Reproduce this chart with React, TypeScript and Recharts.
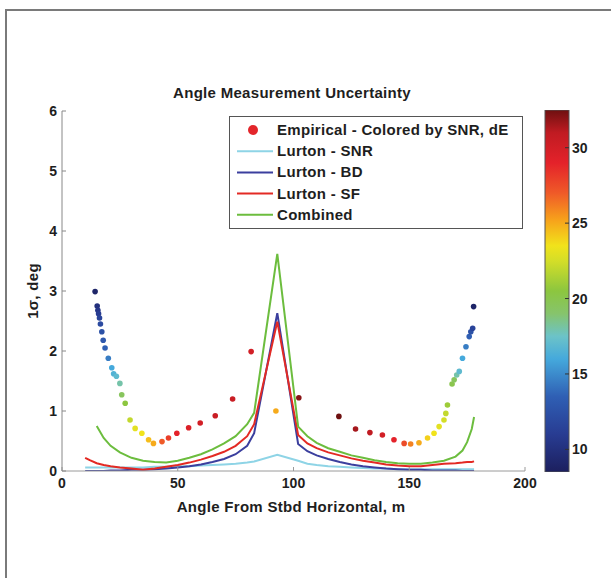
import React from "react";
import {
  ComposedChart,
  BarChart,
  Bar,
  Line,
  Scatter,
  XAxis,
  YAxis,
} from "recharts";

// model curves, sampled on a shared angle grid
const angles = [
  10, 12, 15, 18, 21, 25, 30, 35, 40, 45, 50, 55, 60, 65, 70, 75, 80, 83, 93,
  102, 106, 110, 115, 120, 125, 130, 135, 140, 145, 150, 155, 160, 165, 170,
  173, 175, 177, 178,
];
const lurtonSNR = [
  0.06, 0.06, 0.06, 0.06, 0.06, 0.06, 0.06, 0.06, 0.07, 0.07, 0.08, 0.08,
  0.09, 0.1, 0.11, 0.12, 0.14, 0.16, 0.27, 0.17, 0.12, 0.1, 0.08, 0.07, 0.06,
  0.05, 0.04, 0.04, 0.03, 0.03, 0.03, 0.03, 0.03, 0.03, 0.03, 0.03, 0.03, 0.03,
];
const lurtonBD = [
  0, 0, 0, 0, 0.01, 0.01, 0.02, 0.02, 0.03, 0.04, 0.06, 0.08, 0.11, 0.15, 0.2,
  0.28, 0.42, 0.63, 2.63, 0.45, 0.33, 0.26, 0.2, 0.15, 0.11, 0.08, 0.06, 0.04,
  0.03, 0.02, 0.02, 0.01, 0.01, 0.01, 0, 0, 0, 0,
];
const lurtonSF = [
  0.22, 0.18, 0.13, 0.1, 0.08, 0.06, 0.04, 0.02, 0.04, 0.07, 0.1, 0.14, 0.19,
  0.25, 0.32, 0.42, 0.58, 0.78, 2.49, 0.6, 0.46, 0.38, 0.31, 0.26, 0.21, 0.17,
  0.14, 0.11, 0.09, 0.08, 0.08, 0.1, 0.12, 0.13, 0.14, 0.15, 0.15, 0.16,
];
const combined = [
  null, null, 0.75, 0.55, 0.42, 0.31, 0.22, 0.17, 0.15, 0.14, 0.17, 0.22, 0.28,
  0.36, 0.46, 0.58, 0.78, 0.97, 3.62, 0.74, 0.58, 0.47, 0.38, 0.32, 0.26, 0.22,
  0.18, 0.15, 0.13, 0.12, 0.12, 0.14, 0.17, 0.24, 0.34, 0.48, 0.7, 0.9,
];

// empirical points, coloured by SNR (dE)
const empAngle = [
  14.3, 15.2, 15.5, 15.8, 16.2, 16.6, 17.2, 17.8, 18.6, 20.0, 21.5, 22.3, 23.5,
  25.0, 25.8, 27.3, 29.4, 31.6, 34.5, 37.4, 39.5, 43.2, 46.0, 49.6, 54.7, 59.7,
  66.2, 73.7, 81.7, 92.4, 102.3, 119.6, 126.8, 133.0, 138.4, 143.4, 147.8,
  150.6, 154.2, 157.9, 160.7, 162.9, 165.0, 165.8, 166.5, 168.5, 169.4, 170.5,
  171.6, 173.0, 174.5, 175.9, 176.6, 177.4, 177.8,
];
const empSigma = [
  2.99, 2.75, 2.68, 2.62, 2.55, 2.45, 2.32, 2.18, 2.05, 1.88, 1.72, 1.62, 1.58,
  1.46, 1.27, 1.13, 0.85, 0.71, 0.63, 0.52, 0.46, 0.49, 0.55, 0.63, 0.72, 0.8,
  0.92, 1.2, 1.99, 1.0, 1.22, 0.91, 0.7, 0.64, 0.6, 0.52, 0.46, 0.45, 0.47,
  0.55, 0.63, 0.74, 0.85, 0.96, 1.1, 1.45, 1.52, 1.6, 1.66, 1.88, 2.07, 2.24,
  2.32, 2.38, 2.74,
];
const empSnr = [
  9, 10, 10.5, 11, 11.5, 12, 12.5, 13, 13.5, 14.5, 16, 16.5, 17, 18, 19.5,
  20.5, 22, 23, 23.5, 24.5, 25, 27, 28, 29, 29.5, 30, 30.5, 30.5, 30, 25, 32,
  32.5, 31.5, 31, 30, 29, 27.5, 26, 25, 24, 23.5, 23, 22.5, 22, 21, 20, 19.5,
  18, 17, 16, 14.5, 13.5, 12.5, 11.5, 9,
];

const xTicks = [0, 50, 100, 150, 200];
const yTicks = [0, 1, 2, 3, 4, 5, 6];
const cbarTicks = [10, 15, 20, 25, 30];
const cbarMin = 8.5;
const cbarMax = 32.5;

const legendItems = [
  "Empirical - Colored by SNR, dE",
  "Lurton - SNR",
  "Lurton - BD",
  "Lurton - SF",
  "Combined",
];

// colormap stops (value -> colour), jet-like as in the print
const cmap: [number, string][] = [
  [8.5, "#1c1f5e"],
  [11, "#283c92"],
  [13.5, "#2f5fb4"],
  [16, "#45a9dc"],
  [17.5, "#6cc3c8"],
  [19, "#86c46c"],
  [20.5, "#8cc63f"],
  [22.5, "#d4de28"],
  [23.5, "#f1e31b"],
  [25.2, "#f7a21b"],
  [27, "#ef5a28"],
  [29, "#e4222a"],
  [31, "#c01b22"],
  [32.5, "#6e1010"],
];

const hex = (c: string) => [1, 3, 5].map((i) => parseInt(c.slice(i, i + 2), 16));

const colorAt = (v: number) => {
  if (v <= cmap[0][0]) return cmap[0][1];
  for (let i = 1; i < cmap.length; i++) {
    const [v1, c1] = cmap[i];
    if (v <= v1) {
      const [v0, c0] = cmap[i - 1];
      const t = (v - v0) / (v1 - v0);
      const a = hex(c0);
      const b = hex(c1);
      const m = a.map((x, k) => Math.round(x + (b[k] - x) * t));
      return `rgb(${m[0]},${m[1]},${m[2]})`;
    }
  }
  return cmap[cmap.length - 1][1];
};

const series = (vals: (number | null)[]) =>
  angles
    .map((a, i) => ({ angle: a, v: vals[i] }))
    .filter((d) => d.v !== null);

const empirical = empAngle.map((a, i) => ({
  angle: a,
  sigma: empSigma[i],
  snr: empSnr[i],
}));

const cbarData = [{ name: "snr", range: [cbarMin, cbarMax] }];

const FONT = "'Liberation Sans', Arial, sans-serif";
const TEXT = "#1e1e1e";
const tickStyle = { fill: TEXT, fontSize: 14, fontWeight: "bold", fontFamily: FONT };

const lineColors = ["#8ed4e6", "#3b3f9e", "#e32a24", "#6cbd3e"];

const EmpiricalDot = (p: any) => (
  <circle cx={p.cx} cy={p.cy} r={2.8} fill={colorAt(p.payload.snr)} />
);

const App = () => {
  return (
    <div style={{ position: "absolute", left: 0, top: 0, width: 611, height: 578, background: "#fff" }}>
      <div
        style={{
          position: "absolute",
          left: 5,
          top: 9,
          width: 606,
          height: 569,
          borderTop: "2px solid #7a7a7a",
          borderLeft: "2px solid #7a7a7a",
          boxSizing: "border-box",
        }}
      />
      <div style={{ position: "absolute", left: 0, top: 0 }}>
        <ComposedChart
          width={611}
          height={578}
          margin={{ top: 111, right: 86, bottom: 77, left: 22 }}
        >
          <XAxis
            type="number"
            dataKey="angle"
            domain={[0, 200]}
            ticks={xTicks}
            height={30}
            tickSize={-4}
            tickMargin={11}
            allowDataOverflow
            axisLine={{ stroke: "#9a9a9a" }}
            tickLine={{ stroke: "#9a9a9a" }}
            tick={tickStyle}
          />
          <YAxis
            type="number"
            domain={[0, 6]}
            ticks={yTicks}
            width={40}
            tickSize={-4}
            tickMargin={9}
            allowDataOverflow
            axisLine={{ stroke: "#888" }}
            tickLine={{ stroke: "#888" }}
            tick={tickStyle}
          />
          <Scatter
            data={empirical}
            dataKey="sigma"
            shape={EmpiricalDot}
            isAnimationActive={false}
          />
          <Line data={series(lurtonSNR)} dataKey="v" type="linear" stroke={lineColors[0]} strokeWidth={2} dot={false} isAnimationActive={false} />
          <Line data={series(lurtonBD)} dataKey="v" type="linear" stroke={lineColors[1]} strokeWidth={2} dot={false} isAnimationActive={false} />
          <Line data={series(lurtonSF)} dataKey="v" type="linear" stroke={lineColors[2]} strokeWidth={2} dot={false} isAnimationActive={false} />
          <Line data={series(combined)} dataKey="v" type="linear" stroke={lineColors[3]} strokeWidth={2} dot={false} isAnimationActive={false} />
        </ComposedChart>
      </div>

      {/* colorbar */}
      <div style={{ position: "absolute", left: 540, top: 0 }}>
        <BarChart
          width={71}
          height={578}
          data={cbarData}
          barCategoryGap={0}
          margin={{ top: 110, right: 12, bottom: 106, left: 5 }}
        >
          <defs>
            <linearGradient id="jet" x1="0" y1="1" x2="0" y2="0">
              {cmap.map(([v, c]) => (
                <stop key={v} offset={(v - cbarMin) / (cbarMax - cbarMin)} stopColor={c} />
              ))}
            </linearGradient>
          </defs>
          <XAxis type="category" dataKey="name" hide />
          <YAxis
            orientation="right"
            type="number"
            domain={[cbarMin, cbarMax]}
            ticks={cbarTicks}
            width={30}
            tickSize={-4}
            tickMargin={7}
            allowDataOverflow
            axisLine={false}
            tickLine={{ stroke: "#333" }}
            tick={{ ...tickStyle, fontSize: 14 }}
          />
          <YAxis
            yAxisId="left"
            orientation="left"
            type="number"
            domain={[cbarMin, cbarMax]}
            ticks={cbarTicks}
            width={0}
            tickSize={-4}
            allowDataOverflow
            axisLine={false}
            tickLine={{ stroke: "#333" }}
            tick={{ fontSize: 0 }}
          />
          <Bar
            dataKey="range"
            fill="url(#jet)"
            stroke="#555"
            strokeWidth={1}
            isAnimationActive={false}
          />
        </BarChart>
      </div>

      {/* title, axis labels, legend */}
      <svg
        width={611}
        height={578}
        style={{ position: "absolute", left: 0, top: 0, pointerEvents: "none" }}
        fontFamily={FONT}
        fontWeight="bold"
        fontSize={15}
        letterSpacing={0.3}
        fill={TEXT}
      >
        <text x={292} y={98} textAnchor="middle">
          Angle Measurement Uncertainty
        </text>
        <text x={291} y={512} textAnchor="middle">
          Angle From Stbd Horizontal, m
        </text>
        <text x={38} y={291} textAnchor="middle" transform="rotate(-90 38 291)">
          1σ, deg
        </text>
        <rect x={229.5} y={116.5} width={293} height={112} fill="#fff" stroke="#555" strokeWidth={1} />
        {legendItems.map((label, i) => {
          const cy = 130 + i * 21.2;
          return (
            <g key={label}>
              {i === 0 ? (
                <circle cx={253} cy={cy} r={5} fill="#e3262b" />
              ) : (
                <line x1={237} x2={273} y1={cy} y2={cy} stroke={lineColors[i - 1]} strokeWidth={2} />
              )}
              <text x={277} y={cy + 5}>
                {label}
              </text>
            </g>
          );
        })}
      </svg>
    </div>
  );
};

export default App;
